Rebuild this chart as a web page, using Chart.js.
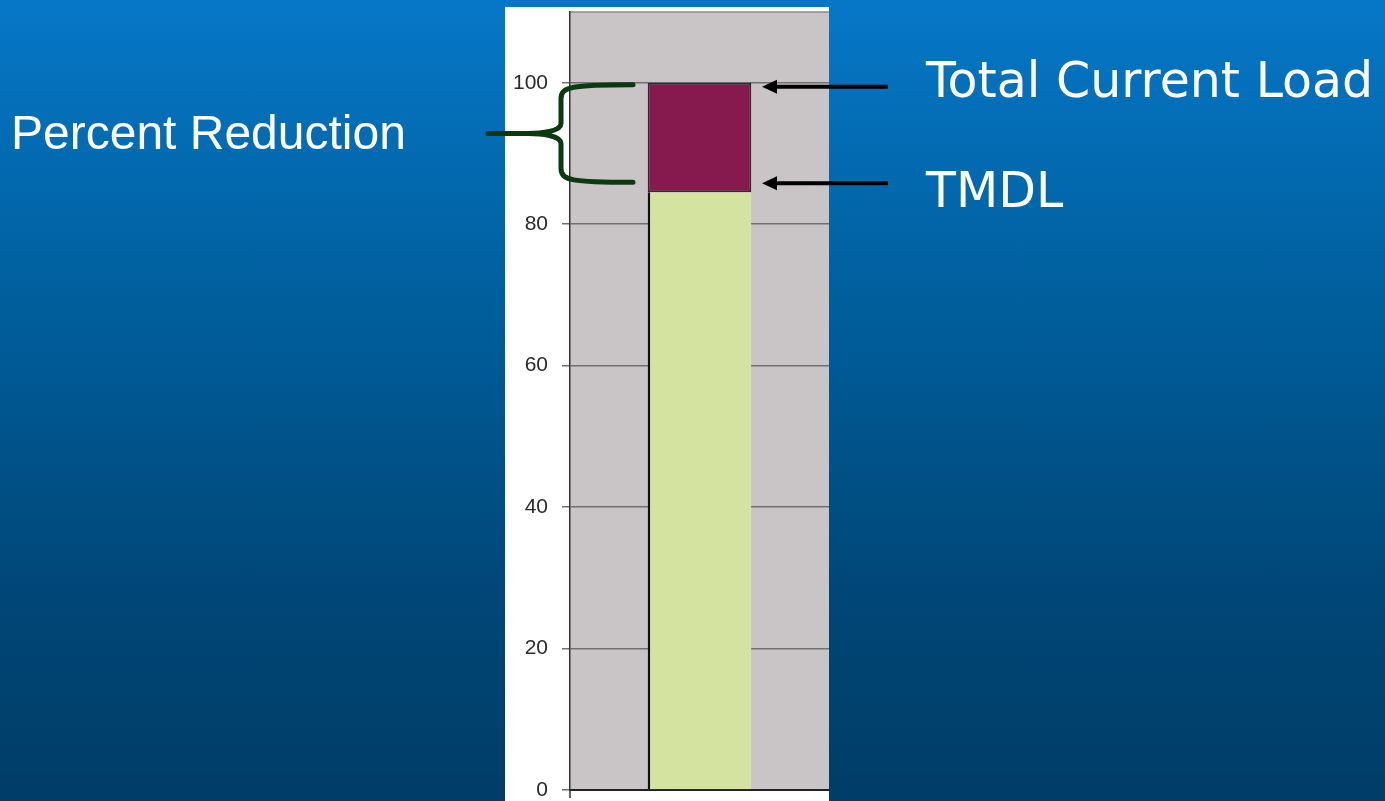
<!DOCTYPE html>
<html>
<head>
<meta charset="utf-8">
<title>Percent Reduction</title>
<script src="https://cdn.jsdelivr.net/npm/chart.js@4"></script>
<style>
  html, body {
    margin: 0;
    padding: 0;
    width: 1385px;
    height: 801px;
    overflow: hidden;
    background: linear-gradient(to bottom, #0677c7 0%, #005d9a 40%, #004676 75%, #003d68 100%);
  }
  #loadChart {
    position: absolute;
    left: 0;
    top: 0;
  }
  .label {
    position: absolute;
    color: #ffffff;
    line-height: 1;
    white-space: nowrap;
  }
  .left-label {
    font-family: "Liberation Sans", Arial, sans-serif;
    font-size: 48px;
    left: 11px;
    top: 109px;
  }
  .right-label {
    font-family: "DejaVu Sans", Verdana, sans-serif;
    font-size: 49px;
    left: 926px;
  }
</style>
</head>
<body>
<canvas id="loadChart" width="1385" height="801"></canvas>
<div class="label left-label">Percent Reduction</div>
<div class="label right-label" style="top: 56px;">Total Current Load</div>
<div class="label right-label" style="top: 166px;">TMDL</div>

<script>
// Data
const categories = [''];
const tmdlValues = [84.5];
const reductionValues = [15.5];
const yTicks = [0, 20, 40, 60, 80, 100];
const yMax = 110;

const AXIS_WIDTH = 65;

// White panel + grey plot background
const panelBackground = {
    id: 'panelBackground',
    beforeDraw(chart) {
        const { ctx, chartArea } = chart;
        ctx.save();
        ctx.fillStyle = '#ffffff';
        ctx.fillRect(chartArea.left - AXIS_WIDTH, chartArea.top - 5,
            chartArea.right - chartArea.left + AXIS_WIDTH, chart.height - chartArea.top + 5);
        ctx.fillStyle = '#c9c5c6';
        ctx.fillRect(chartArea.left, chartArea.top,
            chartArea.right - chartArea.left, chartArea.bottom - chartArea.top);
        // top edge of the plot
        ctx.strokeStyle = '#8c8889';
        ctx.lineWidth = 1.5;
        ctx.beginPath();
        ctx.moveTo(chartArea.left, chartArea.top);
        ctx.lineTo(chartArea.right, chartArea.top);
        ctx.stroke();
        ctx.restore();
    }
};

// Brace and arrows pointing at the load levels
const annotations = {
    id: 'annotations',
    afterDraw(chart) {
        const { ctx, chartArea } = chart;
        const y = chart.scales.y;
        const topY = y.getPixelForValue(tmdlValues[0] + reductionValues[0]);
        const tmdlY = y.getPixelForValue(tmdlValues[0]);

        ctx.save();

        // y axis runs a little below the x axis
        ctx.strokeStyle = '#333333';
        ctx.lineWidth = 1.5;
        ctx.beginPath();
        ctx.moveTo(chartArea.left, chartArea.bottom);
        ctx.lineTo(chartArea.left, chartArea.bottom + 8);
        ctx.stroke();

        // curly brace
        const b1 = topY + 2;
        const b2 = tmdlY - 10;
        const mid = (b1 + b2) / 2;
        const tipX = 633;
        const spineX = 561;
        const stemX = 488;
        ctx.strokeStyle = '#0c3a10';
        ctx.lineWidth = 5;
        ctx.lineCap = 'round';
        ctx.lineJoin = 'round';
        ctx.beginPath();
        ctx.moveTo(tipX, b1);
        ctx.bezierCurveTo(spineX + 10, b1, spineX, b1 + 2, spineX, b1 + 14);
        ctx.lineTo(spineX, mid - 10);
        ctx.bezierCurveTo(spineX, mid - 2, spineX - 20, mid, stemX + 40, mid);
        ctx.lineTo(stemX, mid);
        ctx.moveTo(stemX + 40, mid);
        ctx.bezierCurveTo(spineX - 20, mid, spineX, mid + 2, spineX, mid + 10);
        ctx.lineTo(spineX, b2 - 14);
        ctx.bezierCurveTo(spineX, b2 - 2, spineX + 10, b2, tipX, b2);
        ctx.stroke();

        // arrows
        const arrow = (yPos) => {
            const tip = 762;
            const tail = 888;
            ctx.strokeStyle = '#000000';
            ctx.fillStyle = '#000000';
            ctx.lineWidth = 4;
            ctx.lineCap = 'butt';
            ctx.beginPath();
            ctx.moveTo(tail, yPos);
            ctx.lineTo(tip + 12, yPos);
            ctx.stroke();
            ctx.beginPath();
            ctx.moveTo(tip, yPos);
            ctx.lineTo(tip + 15, yPos - 7);
            ctx.lineTo(tip + 15, yPos + 7);
            ctx.closePath();
            ctx.fill();
        };
        arrow(topY + 4);
        arrow(tmdlY - 9);

        ctx.restore();
    }
};

const ctx = document.getElementById('loadChart').getContext('2d');
new Chart(ctx, {
    type: 'bar',
    data: {
        labels: categories,
        datasets: [
            {
                label: 'TMDL',
                data: tmdlValues,
                backgroundColor: '#d4e3a0',
                borderColor: '#111111',
                borderWidth: { left: 2.5, right: 0, top: 0, bottom: 0 },
                borderSkipped: false
            },
            {
                label: 'Percent Reduction',
                data: reductionValues,
                backgroundColor: '#861a4f',
                borderColor: '#3c2430',
                borderWidth: 2,
                borderSkipped: false
            }
        ]
    },
    options: {
        responsive: false,
        animation: false,
        devicePixelRatio: 1,
        layout: {
            padding: { left: 505, right: 556, top: 12, bottom: 0 }
        },
        plugins: {
            legend: { display: false },
            tooltip: { enabled: false }
        },
        datasets: {
            bar: {
                categoryPercentage: 1,
                barPercentage: 0.4
            }
        },
        scales: {
            x: {
                stacked: true,
                grid: { display: false },
                ticks: { display: false },
                border: { color: '#222222', width: 2 },
                afterFit(scale) {
                    scale.height = 11;
                    scale.paddingLeft = 0;
                    scale.paddingRight = 0;
                }
            },
            y: {
                stacked: true,
                min: 0,
                max: yMax,
                afterBuildTicks(scale) {
                    scale.ticks = yTicks.map(v => ({ value: v }));
                },
                grid: {
                    color: '#707070',
                    lineWidth: 1.5,
                    tickLength: 8
                },
                border: { color: '#333333', width: 1.5 },
                ticks: {
                    padding: 14,
                    color: '#2a2a2a',
                    font: { family: 'Liberation Sans, Arial, sans-serif', size: 21 }
                },
                afterFit(scale) {
                    scale.width = AXIS_WIDTH;
                    scale.paddingTop = 0;
                    scale.paddingBottom = 0;
                }
            }
        }
    },
    plugins: [panelBackground, annotations]
});
</script>
</body>
</html>
